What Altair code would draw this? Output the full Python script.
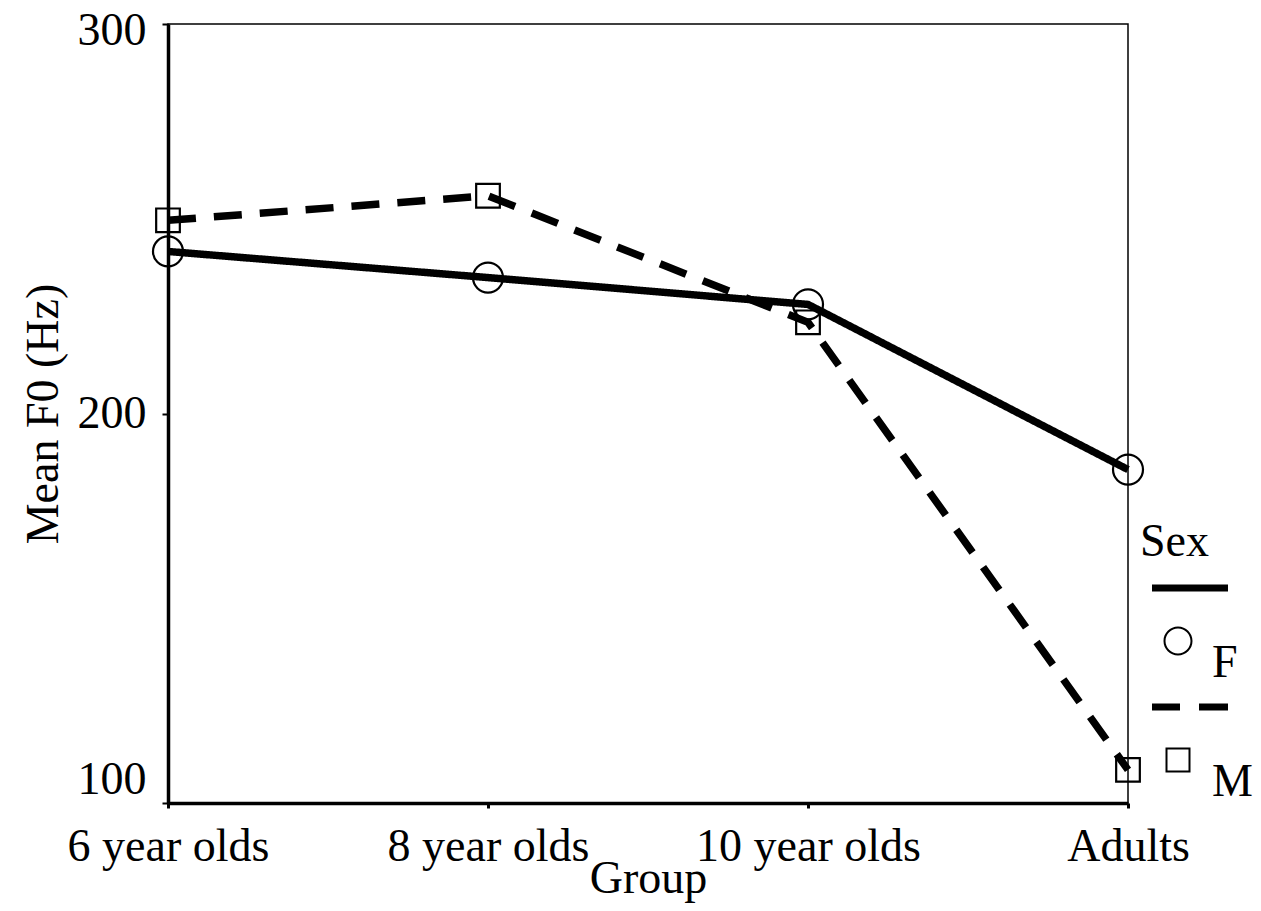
import altair as alt
import pandas as pd

groups = ["6 year olds", "8 year olds", "10 year olds", "Adults"]
f_values = [241.6, 234.9, 228.0, 185.6]
m_values = [249.6, 255.9, 223.4, 108.5]
sexes = ["F", "M"]

rows = []
for s, vals in zip(sexes, [f_values, m_values]):
    for g, v in zip(groups, vals):
        rows.append({"Group": g, "F0": v, "Sex": s})
df = pd.DataFrame(rows)

FONT = "Liberation Serif"
FS = 46

path_f = ("M-1.04,-3.14 H2 V-2.86 H-1.04 Z "
          "M0.58,-0.88 A0.58,0.58 0 1 1 -0.58,-0.88 A0.58,0.58 0 1 1 0.58,-0.88 Z "
          "M0.5,-0.88 A0.5,0.5 0 1 0 -0.5,-0.88 A0.5,0.5 0 1 0 0.5,-0.88 Z")
path_m = ("M-1.04,-3.14 H0.08 V-2.86 H-1.04 Z "
          "M0.84,-3.14 H2 V-2.86 H0.84 Z "
          "M-0.5,-1.38 H0.5 V-0.38 H-0.5 Z "
          "M-0.42,-1.30 V-0.46 H0.42 V-1.30 Z")

x_enc = alt.X("Group:N", sort=groups,
              scale=alt.Scale(type="point", padding=0),
              axis=alt.Axis(title="Group", labelAngle=0, tickSize=5, labelPadding=16,
                            labelLimit=0, domainWidth=3.5, tickWidth=3, titleY=89,
                            titleBaseline="alphabetic"))
y_enc = alt.Y("F0:Q", scale=alt.Scale(domain=[100, 300], nice=False, zero=False),
              axis=alt.Axis(title="Mean F0 (Hz)", values=[100, 200, 300], grid=False,
                            tickSize=6, tickWidth=2, labelPadding=16, domainWidth=3.5,
                            titlePadding=10, labelLimit=0,
                            labelBaseline={"condition": [
                                {"test": "datum.value == 100", "value": "bottom"},
                                {"test": "datum.value == 300", "value": "top"}],
                                "value": "middle"},
                            labelOffset={"condition": {"test": "datum.value == 300",
                                                       "value": -16},
                                         "value": 0}))

base = alt.Chart(df).encode(x=x_enc, y=y_enc)

lines = base.mark_line(color="black", strokeWidth=7.5, strokeCap="butt").encode(
    strokeDash=alt.StrokeDash("Sex:N", scale=alt.Scale(domain=sexes, range=[[1, 0], [28, 18]]),
                              legend=None),
    detail="Sex:N",
)

points = base.mark_point(color="black", filled=False, strokeWidth=2.2, opacity=1).encode(
    shape=alt.Shape("Sex:N", scale=alt.Scale(domain=sexes, range=["circle", "square"]),
                    legend=None),
    size=alt.Size("Sex:N", scale=alt.Scale(domain=sexes, range=[900, 560]), legend=None),
)

legend_layer = base.mark_point(color="black", filled=True, opacity=0).encode(
    shape=alt.Shape("Sex:N", scale=alt.Scale(domain=sexes, range=[path_f, path_m]),
                    legend=alt.Legend(title="Sex", orient="none", legendX=972, legendY=496,
                                      titleFont=FONT, titleFontSize=FS, titleFontWeight="normal",
                                      titleColor="black", titlePadding=72,
                                      labelFont=FONT, labelFontSize=FS, labelColor="black",
                                      labelOffset=9, symbolOffset=13,
                                      symbolSize=2500, symbolFillColor="black",
                                      symbolStrokeWidth=0, symbolOpacity=1,
                                      rowPadding=17)),
)

chart = alt.layer(lines, points, legend_layer).resolve_scale(
    shape="independent", size="independent"
).properties(
    width=960, height=779,
    autosize=alt.AutoSizeParams(type="none"),
    padding={"left": 160, "top": 16, "right": 125, "bottom": 100},
    background="white",
).configure_view(
    stroke="black", strokeWidth=1.5
).configure_axis(
    labelFont=FONT, labelFontSize=FS, labelColor="black",
    titleFont=FONT, titleFontSize=FS, titleFontWeight="normal", titleColor="black",
    domainColor="black", tickColor="black",
)

chart.save("out.html", embed_options={"renderer": "svg", "actions": False})
